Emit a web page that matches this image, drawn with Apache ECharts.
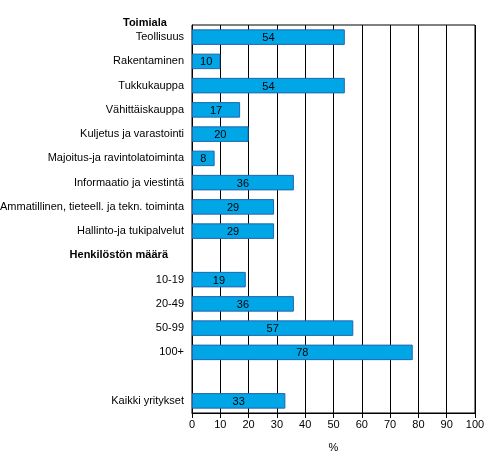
<!DOCTYPE html>
<html>
<head>
<meta charset="utf-8">
<script src="https://cdn.jsdelivr.net/npm/echarts@6/dist/echarts.min.js"></script>
<style>
  html, body { margin: 0; padding: 0; background: #fff; }
  #chart { width: 493px; height: 473px; }
</style>
</head>
<body>
<div id="chart"></div>
<script>
// rivit ylhäältä alas, tyhjä nimi = väliotsikko tai tyhjä rivi
const categories = [
    "Teollisuus",
    "Rakentaminen",
    "Tukkukauppa",
    "Vähittäiskauppa",
    "Kuljetus ja varastointi",
    "Majoitus-ja ravintolatoiminta",
    "Informaatio ja viestintä",
    "Ammatillinen, tieteell. ja tekn. toiminta",
    "Hallinto-ja tukipalvelut",
    "Henkilöstön määrä",
    "10-19",
    "20-49",
    "50-99",
    "100+",
    "",
    "Kaikki yritykset"
];
const values = [54, 10, 54, 17, 20, 8, 36, 29, 29, null, 19, 36, 57, 78, null, 33];
const headers = ["Henkilöstön määrä"];
const xTicks = [0, 100, 10];

const chart = echarts.init(document.getElementById('chart'));
const font = 'Liberation Sans, Arial, sans-serif';

const option = {
    animation: false,
    textStyle: { fontFamily: font },
    grid: {
        left: 192, right: 18, top: 25, bottom: 60,
        outerBoundsMode: 'none',
        containLabel: false,
        show: true, borderColor: '#000', borderWidth: 1
    },
    graphic: [{
        type: 'text',
        left: 123, top: 17,
        style: { text: 'Toimiala', font: 'bold 11px ' + font, fill: '#000' }
    }],
    xAxis: {
        type: 'value',
        min: xTicks[0], max: xTicks[1], interval: xTicks[2],
        name: '%',
        nameLocation: 'middle',
        nameGap: 29,
        nameTextStyle: { color: '#000', fontSize: 11 },
        axisLine: { show: true, lineStyle: { color: '#000' } },
        axisTick: { show: true, length: 5, lineStyle: { color: '#000' } },
        axisLabel: { color: '#000', fontSize: 11, margin: 6 },
        splitLine: { show: true, lineStyle: { color: '#000', width: 1 } }
    },
    yAxis: {
        type: 'category',
        inverse: true,
        data: categories,
        axisLine: { show: true, lineStyle: { color: '#000' } },
        axisTick: { show: false },
        axisLabel: {
            color: '#000', fontSize: 11, margin: 8,
            formatter: (v) => headers.includes(v) ? '{h|' + v + '}' : v,
            rich: {
                h: { fontWeight: 'bold', fontSize: 11, color: '#000', padding: [0, 16, 0, 0] }
            }
        }
    },
    series: [{
        type: 'bar',
        data: values,
        barCategoryGap: '36%',
        itemStyle: { color: '#00A6E6', borderColor: '#1F67B0', borderWidth: 1 },
        label: {
            show: true,
            position: 'inside',
            offset: [0, 1],
            color: '#000',
            fontSize: 11
        }
    }]
};
chart.setOption(option);
</script>
</body>
</html>
